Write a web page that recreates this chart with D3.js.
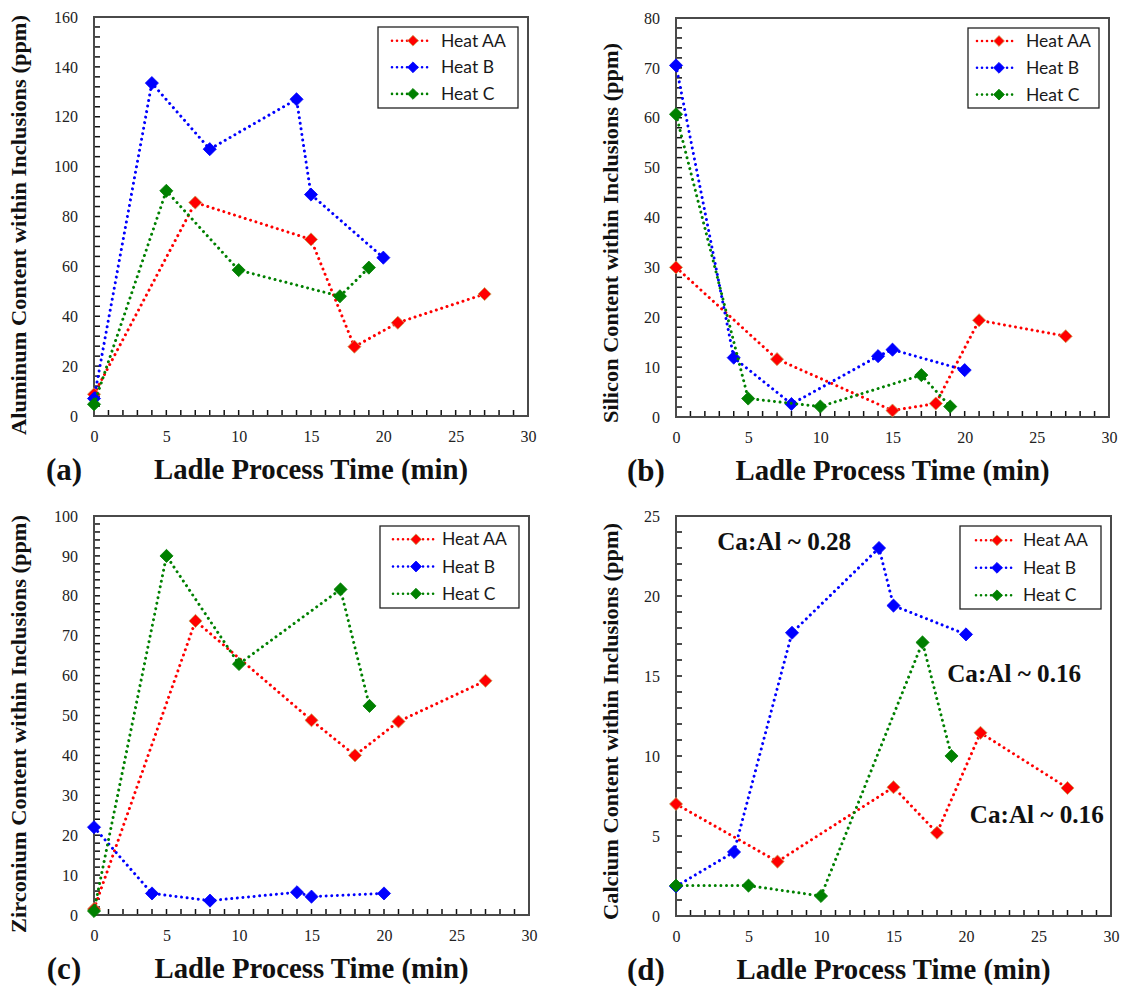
<!DOCTYPE html>
<html>
<head>
<meta charset="utf-8">
<script src="https://cdn.jsdelivr.net/npm/d3@7"></script>
<style>
  body { margin: 0; background: #fff; }
  svg { display: block; }
</style>
</head>
<body>
<svg id="fig" width="1121" height="986"></svg>
<script>
// ---- data -------------------------------------------------------------
const seriesNames  = ["Heat AA", "Heat B", "Heat C"];
const seriesColors = ["#ff0000", "#0000ff", "#008000"];

// sampling times (min) for each heat
const timeAA = [0, 7, 15, 18, 21, 27];
const timeB  = [0, 4, 8, 14, 15, 20];
const timeC  = [0, 5, 10, 17, 19];

// element content within inclusions (ppm)
const aluminumAA = [8.7, 85.6, 70.8, 27.8, 37.4, 48.9];
const aluminumB  = [7.0, 133.5, 107.0, 127.0, 88.8, 63.5];
const aluminumC  = [4.7, 90.3, 58.5, 48.0, 59.5];

const siliconAA = [30.0, 11.6, 1.3, 2.7, 19.4, 16.2];
const siliconB  = [70.5, 11.9, 2.6, 12.2, 13.5, 9.4];
const siliconC  = [60.7, 3.7, 2.1, 8.4, 2.1];

const zirconiumAA = [1.5, 73.7, 48.8, 40.0, 48.5, 58.7];
const zirconiumB  = [22.0, 5.4, 3.6, 5.7, 4.6, 5.4];
const zirconiumC  = [1.0, 90.0, 62.9, 81.6, 52.4];

const calciumAA = [7.0, 3.4, 8.05, 5.2, 11.45, 8.0];
const calciumB  = [1.85, 4.0, 17.7, 23.0, 19.4, 17.6];
const calciumC  = [1.9, 1.9, 1.25, 17.1, 10.0];

// axis ticks
const xTicks = [0, 5, 10, 15, 20, 25, 30];
const yTicksAluminum  = [0, 20, 40, 60, 80, 100, 120, 140, 160];
const yTicksSilicon   = [0, 10, 20, 30, 40, 50, 60, 70, 80];
const yTicksZirconium = [0, 10, 20, 30, 40, 50, 60, 70, 80, 90, 100];
const yTicksCalcium   = [0, 5, 10, 15, 20, 25];

const panelLetters = ["(a)", "(b)", "(c)", "(d)"];
const yTitles = [
  "Aluminum Content within Inclusions (ppm)",
  "Silicon Content within Inclusions (ppm)",
  "Zirconium Content within Inclusions (ppm)",
  "Calcium Content within Inclusions (ppm)"
];
const xTitle = "Ladle Process Time (min)";

// Ca:Al ratio notes on the calcium panel (anchored in data units)
const ratioNotes     = ["Ca:Al ~ 0.28", "Ca:Al ~ 0.16", "Ca:Al ~ 0.16"];
const ratioNoteTime  = [2.84, 18.7, 20.26];
const ratioNoteLevel = [22.9, 14.6, 5.8];

// ---- panel assembly ---------------------------------------------------
const times = [timeAA, timeB, timeC];
const panels = [
  { values: [aluminumAA, aluminumB, aluminumC],    yTicks: yTicksAluminum },
  { values: [siliconAA, siliconB, siliconC],       yTicks: yTicksSilicon },
  { values: [zirconiumAA, zirconiumB, zirconiumC], yTicks: yTicksZirconium },
  { values: [calciumAA, calciumB, calciumC],       yTicks: yTicksCalcium }
];

// frame of each plot area: left, top, right, bottom
const frames = [
  [94, 17, 528, 416],
  [676, 18, 1109, 417],
  [94, 516, 529, 915],
  [676, 516, 1111, 916]
];
// legend box: width, height, row pitch, line start/end, marker and text offsets
const legendLayout = [
  { w: 140, h: 81, row: 26.6, y0: 13.7, l0: 14, l1: 54, m: 35, t: 63 },
  { w: 131, h: 80, row: 26.8, y0: 13.0, l0: 9,  l1: 49, m: 31, t: 58 },
  { w: 139, h: 82, row: 27.2, y0: 13.3, l0: 13, l1: 54, m: 36, t: 62 },
  { w: 141, h: 83, row: 27.5, y0: 14.3, l0: 16, l1: 55, m: 37, t: 63 }
];
const yTitleLayout = [
  { x: 26, y: 225, len: 420 },
  { x: 618, y: 233, len: 380 },
  { x: 26, y: 724, len: 418 },
  { x: 618, y: 721.5, len: 397 }
];

const SERIF = "'Liberation Serif', 'Times New Roman', serif";
const SANS  = "Lato, 'Open Sans', 'Liberation Sans', sans-serif";

const svg = d3.select("#fig");
svg.append("rect").attr("width", 1121).attr("height", 986).attr("fill", "#fff");

const diamond = d3.symbol().type(d3.symbolDiamond2);

panels.forEach((p, i) => {
  const [x0, y0, x1, y1] = frames[i];
  const yMax = p.yTicks[p.yTicks.length - 1];
  const yStep = p.yTicks[1] - p.yTicks[0];
  const x = d3.scaleLinear().domain([0, 30]).range([x0, x1]);
  const y = d3.scaleLinear().domain([0, yMax]).range([y1, y0]);
  const g = svg.append("g");

  // inward tick marks: bottom every minute, left five per labelled step
  const xMinor = d3.range(1, 30, 1);
  const yMinor = d3.range(1, 5 * (p.yTicks.length - 1)).map(k => k * yStep / 5);
  g.append("g").selectAll("line").data(xMinor).enter().append("line")
    .attr("x1", d => x(d)).attr("x2", d => x(d))
    .attr("y1", y1).attr("y2", y1 - 6)
    .attr("stroke", "#111").attr("stroke-width", 1.5);
  g.append("g").selectAll("line").data(yMinor).enter().append("line")
    .attr("y1", d => y(d)).attr("y2", d => y(d))
    .attr("x1", x0).attr("x2", x0 + 6)
    .attr("stroke", "#111").attr("stroke-width", 1.5);

  // plot frame
  g.append("rect")
    .attr("x", x0).attr("y", y0)
    .attr("width", x1 - x0).attr("height", y1 - y0)
    .attr("fill", "none").attr("stroke", "#4a4a4a").attr("stroke-width", 2);

  // tick labels
  const xl = d3.axisBottom(x).tickValues(xTicks).tickSize(0).tickPadding(15);
  g.append("g").attr("transform", `translate(0,${y1})`).call(xl)
    .attr("font-family", SERIF)
    .call(s => s.select(".domain").remove())
    .selectAll("text")
    .attr("font-family", SERIF).attr("font-size", 16).attr("fill", "#222");
  const yl = d3.axisLeft(y).tickValues(p.yTicks).tickSize(0).tickPadding(16);
  g.append("g").attr("transform", `translate(${x0},0)`).call(yl)
    .attr("font-family", SERIF)
    .call(s => s.select(".domain").remove())
    .selectAll("text")
    .attr("font-family", SERIF).attr("font-size", 16).attr("fill", "#222");

  // series: dotted line then diamond markers
  const line = d3.line().x(d => x(d[0])).y(d => y(d[1]));
  p.values.forEach((vals, k) => {
    const pts = vals.map((v, j) => [times[k][j], v]);
    g.append("path")
      .attr("d", line(pts))
      .attr("fill", "none")
      .attr("stroke", seriesColors[k])
      .attr("stroke-width", 3)
      .attr("stroke-linecap", "round")
      .attr("stroke-dasharray", "0.01 5.6");
    g.selectAll(null).data(pts).enter().append("path")
      .attr("d", diamond.size(110)())
      .attr("transform", d => `translate(${x(d[0])},${y(d[1])})`)
      .attr("fill", seriesColors[k])
      .attr("stroke", k === 0 ? "#c8a860" : seriesColors[k])
      .attr("stroke-width", 0.8);
  });

  // legend
  const L = legendLayout[i];
  const lg = g.append("g").attr("transform", `translate(${x1 - 10 - L.w},${y0 + 10})`);
  lg.append("rect").attr("width", L.w).attr("height", L.h)
    .attr("fill", "#fff").attr("stroke", "#222").attr("stroke-width", 1.3);
  seriesNames.forEach((name, k) => {
    const ry = L.y0 + k * L.row;
    lg.append("line")
      .attr("x1", L.l0).attr("x2", L.l1).attr("y1", ry).attr("y2", ry)
      .attr("stroke", seriesColors[k]).attr("stroke-width", 2.6)
      .attr("stroke-linecap", "round").attr("stroke-dasharray", "0.01 5");
    lg.append("path")
      .attr("d", diamond.size(75)())
      .attr("transform", `translate(${L.m},${ry})`)
      .attr("fill", seriesColors[k])
      .attr("stroke", k === 0 ? "#c8a860" : seriesColors[k]).attr("stroke-width", 0.8);
    lg.append("text")
      .attr("x", L.t).attr("y", ry).attr("dy", "0.35em")
      .attr("font-family", SANS).attr("font-size", 17.5).attr("fill", "#1a1a1a")
      .text(name);
  });

  // axis titles
  const T = yTitleLayout[i];
  g.append("text")
    .attr("transform", `translate(${T.x},${T.y}) rotate(-90)`)
    .attr("text-anchor", "middle")
    .attr("font-family", SERIF).attr("font-weight", "bold").attr("font-size", 20)
    .attr("textLength", T.len).attr("lengthAdjust", "spacingAndGlyphs")
    .attr("fill", "#111")
    .text(yTitles[i]);
  const base = y1 + 63;
  g.append("text")
    .attr("x", (x0 + x1) / 2).attr("y", base)
    .attr("text-anchor", "middle")
    .attr("font-family", SERIF).attr("font-weight", "bold").attr("font-size", 30)
    .attr("textLength", 314).attr("lengthAdjust", "spacingAndGlyphs")
    .attr("fill", "#111")
    .text(xTitle);
  g.append("text")
    .attr("x", x0 - 30).attr("y", base + 1)
    .attr("text-anchor", "middle")
    .attr("font-family", SERIF).attr("font-weight", "bold").attr("font-size", 31)
    .attr("fill", "#111")
    .text(panelLetters[i]);

  // ratio notes on the calcium panel
  if (i === 3) {
    ratioNotes.forEach((note, n) => {
      g.append("text")
        .attr("x", x(ratioNoteTime[n])).attr("y", y(ratioNoteLevel[n]))
        .attr("font-family", SERIF).attr("font-weight", "bold").attr("font-size", 26)
        .attr("textLength", 134).attr("lengthAdjust", "spacingAndGlyphs")
        .attr("fill", "#111")
        .text(note);
    });
  }
});
</script>
</body>
</html>
